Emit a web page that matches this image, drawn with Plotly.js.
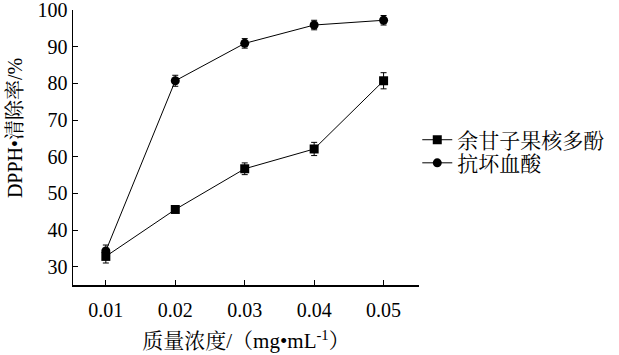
<!DOCTYPE html>
<html>
<head>
<meta charset="utf-8">
<script src="https://cdn.plot.ly/plotly-3.0.1.min.js"></script>
<style>html,body{margin:0;padding:0;background:#fff;}#chart{width:619px;height:355px;}</style>
</head>
<body>
<div id="chart"></div>
<script>
const concentrations = [0.01, 0.02, 0.03, 0.04, 0.05];
const xTickLabels = ["0.01", "0.02", "0.03", "0.04", "0.05"];
const polyphenolName = "余甘子果核多酚";
const polyphenolValues = [32.8, 45.6, 56.7, 62.1, 80.7];
const polyphenolErrors = [1.8, 0.5, 1.6, 1.8, 2.2];
const ascorbicName = "抗坏血酸";
const ascorbicValues = [34.3, 80.7, 90.9, 95.9, 97.2];
const ascorbicErrors = [1.6, 1.5, 1.3, 1.3, 1.3];
const yTicks = [30, 40, 50, 60, 70, 80, 90, 100];

const FONT = "'Liberation Serif', 'Times New Roman', 'Noto Serif CJK SC', 'Noto Sans CJK SC', serif";

function series(name, y, err, symbol, legendId) {
  return {
    type: 'scatter', mode: 'lines+markers', name: name, legend: legendId,
    x: concentrations, y: y,
    line: {color: '#000', width: 1},
    marker: {symbol: symbol, size: 9, color: '#000'},
    error_y: {type: 'data', array: err, visible: true, color: '#000', thickness: 1, width: 3}
  };
}

const data = [
  series(polyphenolName, polyphenolValues, polyphenolErrors, 'square', 'legend'),
  series(ascorbicName, ascorbicValues, ascorbicErrors, 'circle', 'legend2')
];

const legendFont = {family: FONT, size: 21, color: '#000'};
const layout = {
  width: 619, height: 355,
  margin: {l: 73, r: 191, t: 10, b: 70},
  paper_bgcolor: '#fff', plot_bgcolor: '#fff',
  font: {family: FONT, size: 20, color: '#000'},
  showlegend: true,
  legend: {x: 0.995, xanchor: 'left', y: 0.527, yanchor: 'middle',
           font: legendFont, itemwidth: 30, bgcolor: 'rgba(0,0,0,0)', borderwidth: 0},
  legend2: {x: 0.995, xanchor: 'left', y: 0.443, yanchor: 'middle',
           font: legendFont, itemwidth: 30, bgcolor: 'rgba(0,0,0,0)', borderwidth: 0},
  xaxis: {
    range: [0.00527, 0.0551],
    tickvals: concentrations, ticktext: xTickLabels,
    ticks: 'inside', ticklen: 5, tickwidth: 1, tickcolor: '#000',
    showline: true, linecolor: '#000', linewidth: 1.5,
    showgrid: false, zeroline: false,
    ticklabelstandoff: 6,
    tickfont: {family: FONT, size: 20},
    title: {text: '质量浓度/（mg•mL<sup>-1</sup>）', font: {family: FONT, size: 21}, standoff: 14}
  },
  yaxis: {
    range: [25, 100],
    tickvals: yTicks,
    ticks: 'inside', ticklen: 5, tickwidth: 1, tickcolor: '#000',
    showline: true, linecolor: '#000', linewidth: 1.5,
    showgrid: false, zeroline: false,
    ticklabeloverflow: 'allow',
    tickfont: {family: FONT, size: 20}
  },
  annotations: [{
    text: 'DPPH•清除率/%', textangle: -90,
    xref: 'paper', yref: 'paper', x: -0.168, y: 0.57, xanchor: 'center', yanchor: 'middle',
    showarrow: false, font: {family: FONT, size: 20, color: '#000'}
  }]
};

Plotly.newPlot('chart', data, layout, {displayModeBar: false, staticPlot: true});
</script>
</body>
</html>
